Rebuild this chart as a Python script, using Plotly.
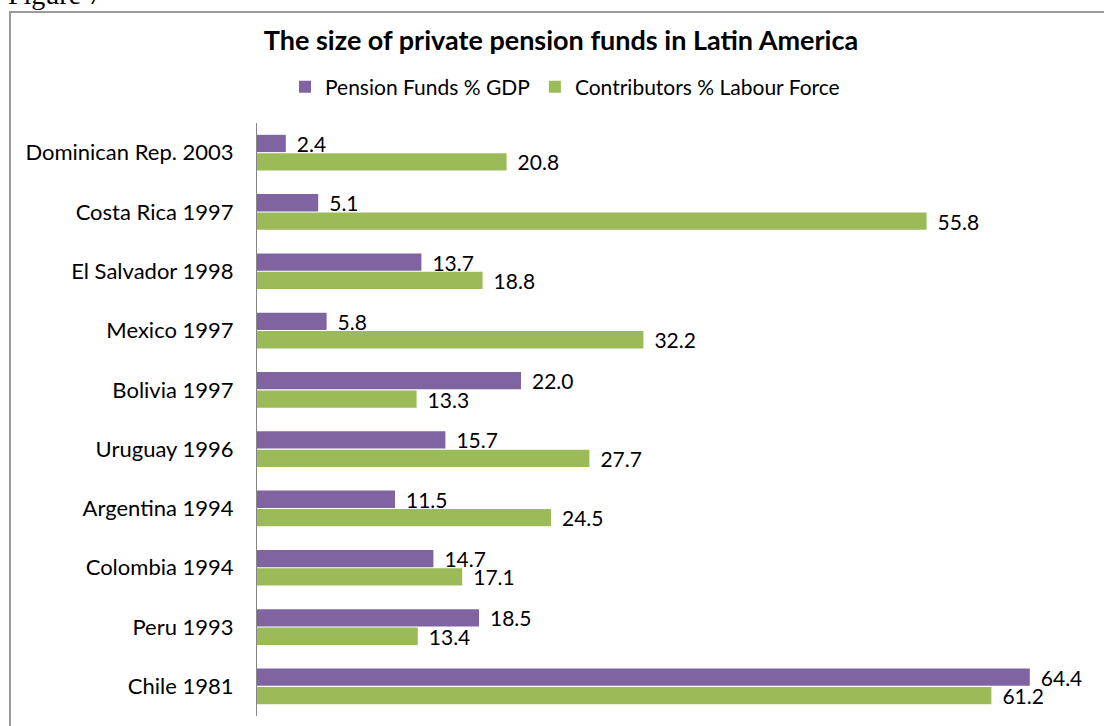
import plotly.graph_objects as go

categories = ["Dominican Rep. 2003", "Costa Rica 1997", "El Salvador 1998", "Mexico 1997",
              "Bolivia 1997", "Uruguay 1996", "Argentina 1994", "Colombia 1994",
              "Peru 1993", "Chile 1981"]
pension_funds_gdp = [2.4, 5.1, 13.7, 5.8, 22.0, 15.7, 11.5, 14.7, 18.5, 64.4]
contributors_labour = [20.8, 55.8, 18.8, 32.2, 13.3, 27.7, 24.5, 17.1, 13.4, 61.2]

FONT = "Lato"
L, R, T, B = 257, 7, 123, 10
PW, PH = 1104 - L - R, 726 - T - B

fig = go.Figure()
for name, vals, col in [("Pension Funds % GDP", pension_funds_gdp, "#8064A2"),
                        ("Contributors % Labour Force", contributors_labour, "#9BBB59")]:
    fig.add_trace(go.Bar(
        y=categories, x=vals, orientation="h", name=name,
        marker=dict(color=col, line=dict(width=0)),
        text=[f"{v:.1f}" for v in vals], texttemplate="\u00a0\u2009%{text}",
        textposition="outside", constraintext="none",
        textfont=dict(size=21, color="#000000", family=FONT),
        cliponaxis=False,
    ))

fig.update_layout(
    width=1104, height=726,
    margin=dict(l=L, r=R, t=T, b=B, autoexpand=False),
    paper_bgcolor="white", plot_bgcolor="white",
    barmode="group", bargap=0.38, bargroupgap=0.06,
    font=dict(family=FONT, color="#000000"),
    title=dict(text="<b>The size of private pension funds in Latin America</b>",
               x=561 / 1104, xref="container", xanchor="center", y=1 - 41 / 726, yanchor="middle",
               font=dict(size=27, family=FONT, color="#000000")),
    legend=dict(orientation="h", x=565 / 1104, xanchor="center", xref="container",
                y=1 - 87 / 726, yref="container", yanchor="middle",
                font=dict(size=21, family=FONT), traceorder="normal"),
    showlegend=True,
    xaxis=dict(range=[0, 70], visible=False),
    yaxis=dict(autorange="reversed", showline=True, linecolor="#868686", linewidth=1,
               ticks="", showgrid=False, tickfont=dict(size=22, family=FONT, color="#000000"),
               ticklabelstandoff=18),
)

# outer chart frame
fig.add_shape(type="rect", xref="paper", yref="paper",
              x0=(10 - L) / PW, x1=1.2, y0=-0.1, y1=(726 - B - 12) / PH,
              line=dict(color="#9a9a9a", width=2), fillcolor="rgba(0,0,0,0)", layer="below")

fig.add_annotation(text="Figure 7", xref="paper", yref="paper",
                   x=(6 - L) / PW, xanchor="left", y=(726 - B - 12) / PH, yanchor="bottom",
                   showarrow=False, font=dict(family="Liberation Serif", size=28, color="#000000"))

fig.write_html("out.html", config={"displayModeBar": False},
               post_script="document.body.style.margin='0';")
